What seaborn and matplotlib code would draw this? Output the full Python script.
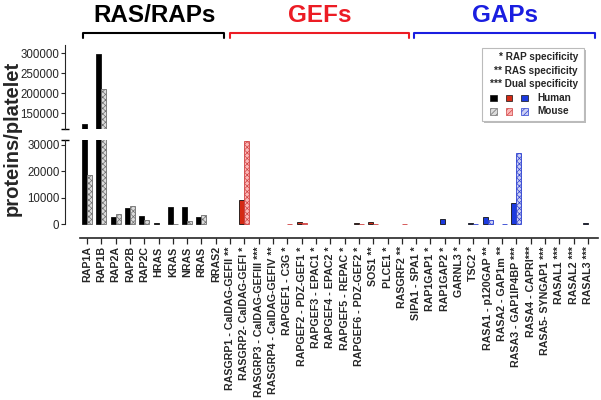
import numpy as np
import pandas as pd
import matplotlib
matplotlib.use('Agg')
import matplotlib.pyplot as plt
import seaborn as sns
from matplotlib.ticker import FuncFormatter
from matplotlib.lines import Line2D
from matplotlib.patches import Rectangle

# ---------------- datos ----------------
ras_genes = ['RAP1A', 'RAP1B', 'RAP2A', 'RAP2B', 'RAP2C', 'HRAS', 'KRAS', 'NRAS', 'RRAS', 'RRAS2']
gef_genes = ['RASGRP1 - CalDAG-GEFII **', 'RASGRP2- CalDAG-GEFI *', 'RASGRP3 - CalDAG-GEFIII ***',
             'RASGRP4 - CalDAG-GEFIV **', 'RAPGEF1 - C3G *', 'RAPGEF2 - PDZ-GEF1 *', 'RAPGEF3 - EPAC1 *',
             'RAPGEF4 - EPAC2 *', 'RAPGEF5 - REPAC *', 'RAPGEF6 - PDZ-GEF2 *', 'SOS1 **', 'PLCE1 *', 'RASGRF2 **']
gap_genes = ['SIPA1 - SPA1 *', 'RAP1GAP1 *', 'RAP1GAP2 *', 'GARNL3 *', 'TSC2 *', 'RASA1 - p120GAP **',
             'RASA2 - GAP1m **', 'RASA3 - GAP1IP4BP ***', 'RASA4 - CAPRI***', 'RASA5- SYNGAP1 ***',
             'RASAL1 ***', 'RASAL2 ***', 'RASAL3 ***']

ras_human = [123000, 298000, 2800, 6000, 3100, 500, 6400, 6400, 2600, 0]
ras_mouse = [18500, 210000, 3800, 6800, 1500, 0, 150, 1400, 3400, 0]
gef_human = [0, 9000, 0, 0, 0, 800, 0, 0, 0, 400, 700, 0, 0]
gef_mouse = [0, 31500, 0, 0, 150, 300, 0, 0, 0, 150, 250, 0, 150]
gap_human = [0, 0, 2100, 0, 400, 2700, 0, 8100, 0, 0, 0, 0, 450]
gap_mouse = [0, 0, 0, 0, 120, 1500, 150, 26800, 0, 0, 0, 0, 0]

genes = ras_genes + gef_genes + gap_genes
grupo = ['RAS/RAPs'] * len(ras_genes) + ['GEFs'] * len(gef_genes) + ['GAPs'] * len(gap_genes)
humano = ras_human + gef_human + gap_human
raton = ras_mouse + gef_mouse + gap_mouse

Datos = pd.DataFrame({
    'gen': genes * 2,
    'especie': ['Human'] * len(genes) + ['Mouse'] * len(genes),
    'valor': humano + raton,
})

# colores por grupo: (humano, raton relleno, raton trama)
colores = {
    'RAS/RAPs': ('#000000', '#dcdcdc', '#707070'),
    'GEFs': ('#d42a14', '#fbb8b8', '#d04040'),
    'GAPs': ('#1b3ade', '#cdd0f4', '#2a3ed0'),
}
titulos = {'RAS/RAPs': '#000000', 'GEFs': '#ec1c24', 'GAPs': '#1a1ee0'}

# ---------------- figura ----------------
sns.set_style('ticks')
plt.rcParams['font.family'] = ['Liberation Sans', 'DejaVu Sans']
plt.rcParams['hatch.linewidth'] = 0.5

W, H = 601, 400
fig = plt.figure(figsize=(W / 100, H / 100), dpi=100)


def fx(x):
    return x / W


def fy(y):
    return 1 - y / H


ax_sup = fig.add_axes([fx(65), fy(129.3), fx(598) - fx(65), (129.3 - 45) / H])
ax_inf = fig.add_axes([fx(65), fy(238), fx(598) - fx(65), (238 - 139.9) / H])

for ax in (ax_sup, ax_inf):
    sns.barplot(data=Datos, x='gen', y='valor', hue='especie', order=genes,
                hue_order=['Human', 'Mouse'], width=0.7, errorbar=None, legend=False, ax=ax)
    for i, (p_h, p_m) in enumerate(zip(ax.containers[0], ax.containers[1])):
        c_h, c_m, c_t = colores[grupo[i]]
        p_h.set_facecolor(c_h)
        p_h.set_edgecolor('#111111')
        p_h.set_linewidth(0.6)
        p_m.set_facecolor(c_m)
        p_m.set_edgecolor(c_t)
        p_m.set_hatch('xxxxxx')
        p_m.set_linewidth(0.6)
        for p in (p_h, p_m):
            if p.get_height() == 0:
                p.set_linewidth(0)
    ax.set_xlim(-1.537, 35.71)
    ax.set_xlabel('')
    ax.set_ylabel('')
    ax.yaxis.set_major_formatter(FuncFormatter(lambda x, _: f'{x:.0f}'))
    ax.tick_params(axis='y', labelsize=8.3, length=3, width=0.8, pad=1)
    sns.despine(ax=ax)

# eje superior
ax_sup.set_ylim(110000, 320800)
ax_sup.set_yticks([150000, 200000, 250000, 300000])
ax_sup.spines['bottom'].set_visible(False)
ax_sup.set_xticks([])
ax_sup.plot([0], [0], marker='_', ms=6, mew=1, color='k', transform=ax_sup.transAxes, clip_on=False)

# eje inferior
ax_inf.set_ylim(-5164, 31800)
ax_inf.set_yticks([0, 10000, 20000, 30000])
ax_inf.spines['left'].set_bounds(0, 31800)
ax_inf.spines['bottom'].set_bounds(-0.5, 35.7)
ax_inf.spines['bottom'].set_linewidth(1.2)
ax_inf.plot([0], [1], marker='_', ms=6, mew=1, color='k', transform=ax_inf.transAxes, clip_on=False)
ax_inf.tick_params(axis='x', labelrotation=90, labelsize=7.7, length=4, width=0.9, pad=2)
plt.setp(ax_inf.get_xticklabels(), fontweight='bold')

# etiqueta eje y
fig.text(fx(12), fy(138), 'proteins/platelet', rotation=90, fontsize=14.5,
         fontweight='bold', ha='center', va='center')

# titulos y llaves de grupo
llaves = [('RAS/RAPs', 83, 224, 155), ('GEFs', 230, 409, 320), ('GAPs', 414, 595, 505)]
for nombre, x0, x1, xc in llaves:
    col = titulos[nombre]
    fig.text(fx(xc), fy(15), nombre, color=col, fontsize=17.5, fontweight='bold', ha='center', va='center')
    fig.add_artist(Line2D([fx(x0), fx(x0), fx(x1), fx(x1)], [fy(38), fy(32.5), fy(32.5), fy(38)],
                          color=col, lw=1.5, transform=fig.transFigure))

# leyenda
fig.add_artist(Rectangle((fx(484), fy(123)), fx(102), 73 / H, facecolor='#bbbbbb',
                         edgecolor='none', transform=fig.transFigure))
fig.add_artist(Rectangle((fx(482), fy(121)), fx(102), 73 / H, facecolor='white',
                         edgecolor='#bbbbbb', lw=0.8, transform=fig.transFigure))
for texto, y in [('* RAP specificity', 57.3), ('** RAS specificity', 70.7), ('*** Dual specificity', 84)]:
    fig.text(fx(578), fy(y), texto, fontsize=7.2, fontweight='bold', ha='right', va='center')
for k, nombre in enumerate(['RAS/RAPs', 'GEFs', 'GAPs']):
    c_h, c_m, c_t = colores[nombre]
    x = 490 + k * 15.5
    fig.add_artist(Rectangle((fx(x), fy(101)), fx(6.5), 6.5 / H, facecolor=c_h, edgecolor='#111111',
                             lw=0.5, transform=fig.transFigure))
    fig.add_artist(Rectangle((fx(x), fy(114.5)), fx(6.5), 6.5 / H, facecolor=c_m, edgecolor=c_t,
                             lw=0.5, hatch='//////', transform=fig.transFigure))
fig.text(fx(537), fy(97.7), 'Human', fontsize=7.2, fontweight='bold', ha='left', va='center')
fig.text(fx(537), fy(111), 'Mouse', fontsize=7.2, fontweight='bold', ha='left', va='center')

fig.savefig('out.png', dpi=100)
